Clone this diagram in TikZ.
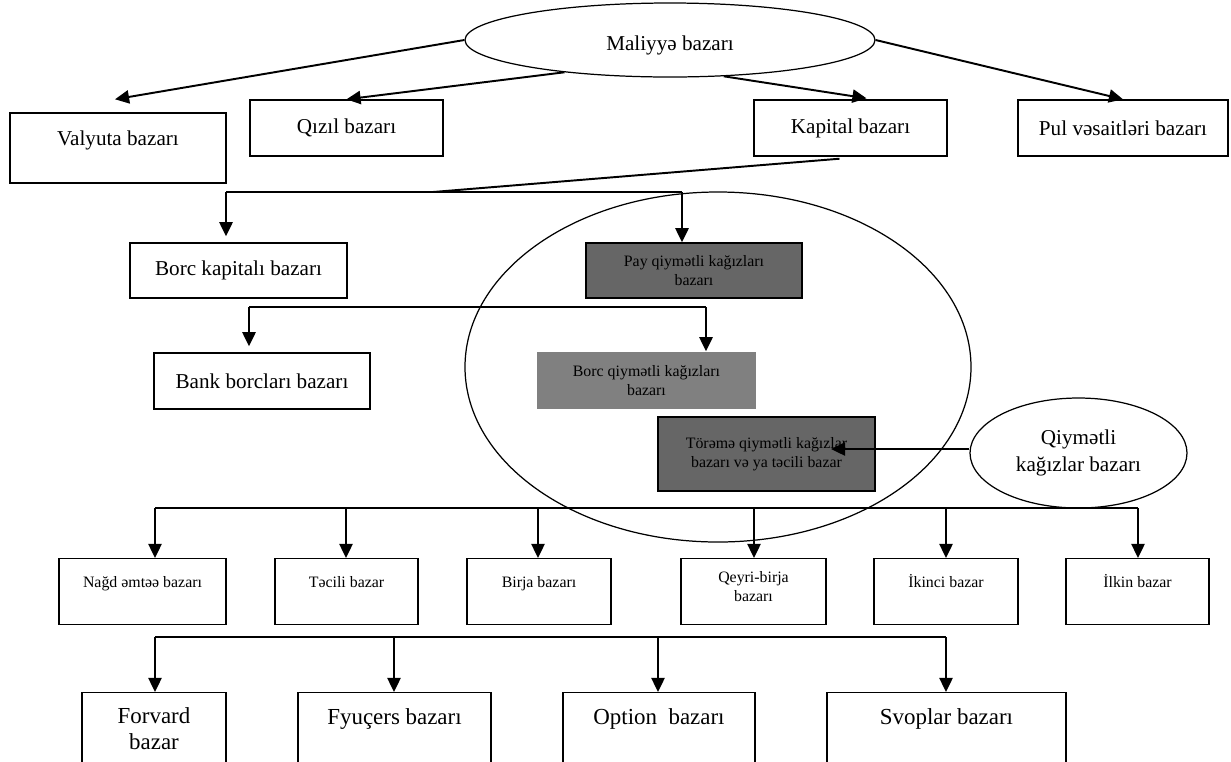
\documentclass[tikz,border=0pt]{standalone}
\usepackage{fontspec}
\setmainfont{Liberation Serif}
\usetikzlibrary{arrows.meta,calc,shapes.geometric}

\definecolor{darkbox}{RGB}{102,102,102}
\definecolor{midbox}{RGB}{128,128,128}
\newcommand{\pxu}{0.567pt}

\tikzset{
  sz/.style 2 args={minimum width={#1*\pxu}, minimum height={#2*\pxu}},
  box/.style={draw, rectangle, line width=0.8pt, inner sep=0pt, align=center,
    font=\fontsize{12}{14}\selectfont},
  graybox/.style={box, font=\fontsize{9}{10.8}\selectfont},
  oval/.style={draw, ellipse, line width=0.7pt, inner sep=0pt, align=center,
    font=\fontsize{12}{15.3}\selectfont},
  lowone/.style={font=\fontsize{9}{10.8}\selectfont, text height=16.2pt, text depth=21.2pt},
  lowtwo/.style={font=\fontsize{9}{10.8}\selectfont, text height=24.4pt, text depth=13pt},
  highone/.style={font=\fontsize{13}{14.7}\selectfont, text height=18.1pt, text depth=31.8pt},
  hightwo/.style={font=\fontsize{13}{14.7}\selectfont, text height=32.3pt, text depth=17.6pt},
  link/.style={line width=1.1pt},
  arr/.style={link, -{Triangle[length=8pt,width=7.5pt]}},
}

\begin{document}
\begin{tikzpicture}[x=0.567pt, y=-0.567pt]
  \useasboundingbox (0,0) rectangle (1231,761);
  \clip (0,0) rectangle (1231,761);

  % big ellipse round the securities markets
  \draw[line width=0.7pt] (718,367) ellipse [x radius=253, y radius=175];

  % top level
  \node[oval, sz={410}{74}, text height=14pt] (mal) at (670,40) {Maliyyə bazarı};
  \node[box, sz={216}{70}, text height=18.7pt, text depth=21pt] (val) at (118,148) {Valyuta bazarı};
  \node[box, sz={193}{56}] (qiz) at (346.5,128) {Qızıl bazarı};
  \node[box, sz={193}{56}] (kap) at (850.5,128) {Kapital bazarı};
  \node[box, sz={210}{56}] (pul) at (1123,128) {Pul vəsaitləri bazarı};

  % capital market
  \node[box, sz={217}{55}] (bk) at (238.5,270.5) {Borc kapitalı bazarı};
  \node[graybox, sz={216}{55}, fill=darkbox] (pay) at (694,270.5) {Pay qiymətli kağızları\\bazarı};
  \node[box, sz={216}{56}] (bank) at (262,381) {Bank borcları bazarı};
  \node[graybox, sz={219}{57}, fill=midbox, draw=none] (bq) at (646.5,380.5) {Borc qiymətli kağızları\\bazarı};
  \node[graybox, sz={217}{74}, fill=darkbox] (tor) at (766.5,454) {Törəmə qiymətli kağızlar\\bazarı və ya təcili bazar};
  \node[oval, sz={217}{110}] (qkb) at (1078.5,453) {Qiymətli\\kağızlar bazarı};

  % arrows from the top ellipse
  \draw[arr] (mal.west) -- ($(val.north)+(-3,-13)$);
  \draw[arr] (mal.197) -- (qiz.north);
  \draw[arr] (mal.-34) -- ($(kap.north)+(16,-1)$);
  \draw[arr] (mal.east) -- (pul.north);

  % kapital bazari splits in two
  \coordinate (kj) at (433,192);
  \coordinate (bl) at (226,192);
  \coordinate (br) at (682,192);
  \draw[link] ($(kap.south)+(-11,2)$) -- (kj);
  \draw[link] (bl) -- (br);
  \draw[arr] (bl) -- ($(bl |- bk.north)+(0,-6)$);
  \draw[arr] (br) -- (br |- pay.north);

  \coordinate (cl) at (249,307);
  \coordinate (cr) at (706,307);
  \draw[link] (cl) -- (cr);
  \draw[arr] (cl) -- ($(cl |- bank.north)+(0,-6)$);
  \draw[arr] (cr) -- (cr |- bq.north);

  \coordinate (tt) at (831,449);
  \draw[arr] ($(qkb.west)+(0,-4)$) -- (tt);

  % first row of boxes, using a loop
  \draw[link] (155,508) -- (1138,508);
  \foreach \n/\x/\w/\ax/\s/\txt in {nagd/142.5/167/155/lowone/Nağd əmtəə bazarı,
      tecili/346.5/143/346/lowone/Təcili bazar, birja/539/144/538/lowone/Birja bazarı,
      qeyri/753.5/145/754/lowtwo/Qeyri-birja\\bazarı, ikinci/946/144/946/lowone/İkinci bazar,
      ilkin/1137.5/143/1138/lowone/İlkin bazar}{
    \node[box, \s, minimum width=\w*\pxu, anchor=north] (\n) at (\x,558) {\txt};
    \coordinate (t\n) at (\ax,508);
    \draw[arr] (t\n) -- (t\n |- \n.north);
  }

  % second row of boxes
  \draw[link] (155,637) -- (946,637);
  \foreach \n/\x/\w/\ax/\s/\txt in {forv/154/144/155/hightwo/Forvard\\bazar,
      fyu/394.5/193/394/highone/Fyuçers bazarı, opt/659/192/658/highone/Option~ bazarı,
      svo/946.5/239/946/highone/Svoplar bazarı}{
    \node[box, \s, minimum width=\w*\pxu, anchor=north] (\n) at (\x,692) {\txt};
    \coordinate (t\n) at (\ax,637);
    \draw[arr] (t\n) -- (t\n |- \n.north);
  }
\end{tikzpicture}
\end{document}
